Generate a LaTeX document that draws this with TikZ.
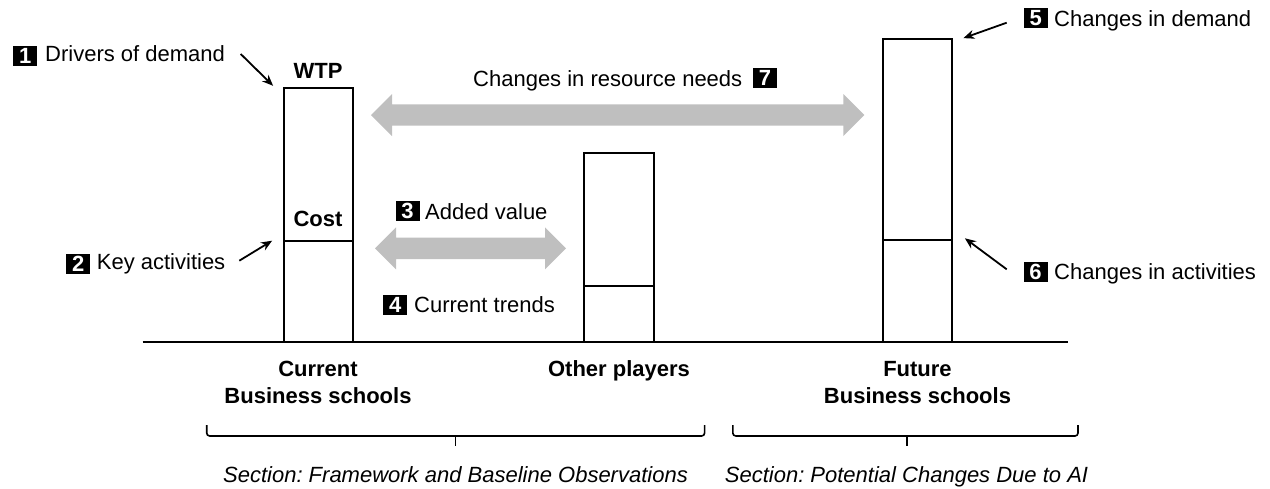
\documentclass[tikz,border=0pt]{standalone}
\usepackage{fontspec}
\setmainfont{Liberation Sans}
\usetikzlibrary{arrows.meta,calc}
\definecolor{arrowgray}{HTML}{BFBFBF}
\frenchspacing

% wide grey two-headed arrow: left x, right x, centre y
\newcommand\widearrow[3]{%
  \fill[arrowgray] (#1,#3) -- (#1+21,#3-21) -- (#1+21,#3-10.7) -- (#2-21,#3-10.7)
    -- (#2-21,#3-21) -- (#2,#3) -- (#2-21,#3+21) -- (#2-21,#3+10.7)
    -- (#1+21,#3+10.7) -- (#1+21,#3+21) -- cycle;}

\begin{document}
\begin{tikzpicture}[x=1pt,y=-1pt,
  bar/.style={draw, line width=1.8pt, inner sep=0pt, rectangle},
  divider/.style={line width=1.8pt},
  txt/.style={font=\fontsize{22}{26}\selectfont, inner sep=0pt, anchor=base west},
  bold/.style={font=\fontsize{22}{26}\selectfont\bfseries, inner sep=0pt, anchor=base},
  sectxt/.style={font=\fontsize{22}{26}\selectfont\itshape, inner sep=0pt, anchor=base},
  numbox/.style={fill=black, text=white, font=\fontsize{22}{22}\selectfont\bfseries,
    inner sep=0pt, minimum width=24pt, minimum height=20pt},
  pointer/.style={line width=1.8pt, -{Stealth[length=11pt,width=9pt]}},
  brace/.style={line width=1.6pt, rounded corners=3pt}]
\useasboundingbox (0,0) rectangle (1270,488);

% the three bars and their WTP / cost dividers
\node[bar, minimum width=69pt, minimum height=254pt] (cur) at (318.5,215.2) {};
\node[bar, minimum width=70pt, minimum height=188.7pt] (oth) at (619,247.7) {};
\node[bar, minimum width=69pt, minimum height=303pt] (fut) at (917.5,190.5) {};
\coordinate (curcut) at (0,240.7);
\coordinate (othcut) at (0,286);
\coordinate (futcut) at (0,240);
\draw[divider] (cur.west |- curcut) -- (cur.east |- curcut);
\draw[divider] (oth.west |- othcut) -- (oth.east |- othcut);
\draw[divider] (fut.west |- futcut) -- (fut.east |- futcut);

% ground line
\draw[line width=2.2pt] (142.7,341.6) -- (1068,341.6);

% bar annotations
\node[bold] (wtp) at (318,78.3) {WTP};
\node[bold] (cost) at (318,226.7) {Cost};

% captions under the bars
\node[bold] (cur1) at (318,376) {Current};
\node[bold] (cur2) at (318,403.3) {Business schools};
\node[bold] (oth1) at (619,376) {Other players};
\node[bold] (fut1) at (917.5,376) {Future};
\node[bold] (fut2) at (917.5,403.3) {Business schools};

% grey arrows
\widearrow{375}{566}{248.3}
\widearrow{371}{864.3}{115}

% numbered labels
\node[numbox] (n1) at (25.3,56) {1};
\node[txt] (t1) at (45,61) {Drivers of demand};
\node[numbox] (n2) at (78.2,264) {2};
\node[txt] (t2) at (96.7,269.5) {Key activities};
\node[numbox] (n3) at (407.5,210.8) {3};
\node[txt] (t3) at (425,219.3) {Added value};
\node[numbox] (n4) at (395.3,304.8) {4};
\node[txt] (t4) at (414,312.3) {Current trends};
\node[txt] (t7) at (473,86) {Changes in resource needs};
\node[numbox] (n7) at (765,77.8) {7};
\node[numbox] (n5) at (1035.8,17.8) {5};
\node[txt] (t5) at (1054,26) {Changes in demand};
\node[numbox] (n6) at (1035.5,272.3) {6};
\node[txt] (t6) at (1054,279.3) {Changes in activities};

% pointer arrows
\coordinate (p1s) at (240.7,54);
\coordinate (p1e) at ($(cur.north west)+(-10,-1.5)$);
\coordinate (p2s) at (239.3,260.7);
\coordinate (p2e) at ($(cur.west |- curcut)+(-11,0)$);
\coordinate (p5s) at (1006.7,22.7);
\coordinate (p5e) at ($(fut.north east)+(10.5,0)$);
\coordinate (p6s) at (1006.7,269.3);
\coordinate (p6e) at ($(fut.east |- futcut)+(12,-1.7)$);
\draw[pointer] (p1s) -- (p1e);
\draw[pointer] (p2s) -- (p2e);
\draw[pointer] (p5s) -- (p5e);
\draw[pointer] (p6s) -- (p6e);

% section braces
\draw[brace] (206.7,425) -- (206.7,436) -- (704.6,436) -- (704.6,425);
\draw[brace] (455.5,436) -- (455.5,446);
\draw[brace] (732.8,425) -- (732.8,436) -- (1078,436) -- (1078,425);
\draw[brace] (906.8,436) -- (906.8,446);
\node[sectxt] (s1) at (455.5,482) {Section: Framework and Baseline Observations};
\node[sectxt] (s2) at (906.5,482) {Section: Potential Changes Due to AI};
\end{tikzpicture}
\end{document}
